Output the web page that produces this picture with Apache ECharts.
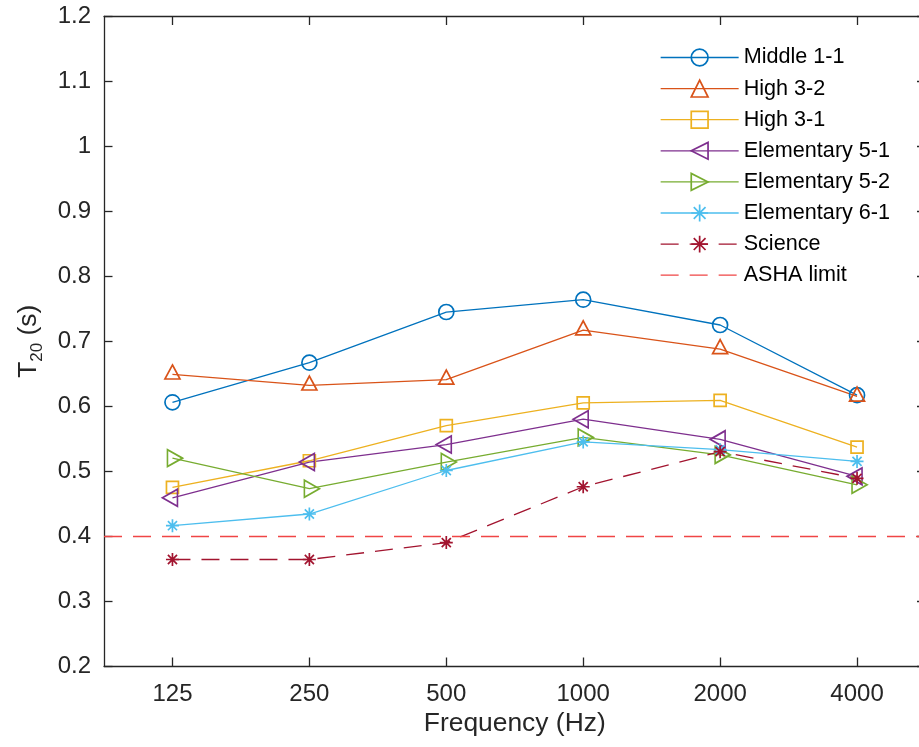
<!DOCTYPE html>
<html>
<head>
<meta charset="utf-8">
<script src="https://cdn.jsdelivr.net/npm/echarts@6/dist/echarts.min.js"></script>
<style>
  html, body { margin: 0; padding: 0; background: #fff; }
  #chart { width: 919px; height: 747px; }
</style>
</head>
<body>
<div id="chart"></div>
<script>
// Octave-band centre frequencies (Hz)
const frequencies = ['125', '250', '500', '1000', '2000', '4000'];

// Reverberation time T20 (s) per classroom
const middle11 = [0.606, 0.667, 0.745, 0.764, 0.725, 0.617];
const high32   = [0.649, 0.632, 0.641, 0.717, 0.688, 0.615];
const high31   = [0.475, 0.516, 0.570, 0.605, 0.609, 0.537];
const elem51   = [0.459, 0.514, 0.541, 0.580, 0.549, 0.492];
const elem52   = [0.520, 0.473, 0.514, 0.552, 0.525, 0.479];
const elem61   = [0.416, 0.434, 0.501, 0.545, 0.533, 0.515];
const science  = [0.364, 0.364, 0.390, 0.476, 0.530, 0.489];

// Recommended maximum reverberation time
const ashaLimit = 0.4;

// Value axis range
const yMin = 0.2, yMax = 1.2, yStep = 0.1;

const FONT = '"Liberation Sans", Arial, Helvetica, sans-serif';
const AXIS_COLOR = '#262626';

// Marker shapes (outline only)
const SYM = {
  circle: 'circle',
  up: 'path://M0.5,0 L1,1 L0,1 Z',
  square: 'rect',
  left: 'path://M0,0.5 L1,0 L1,1 Z',
  right: 'path://M1,0.5 L0,0 L0,1 Z',
  star: 'path://M0,-1 L0,1 M-1,0 L1,0 M-0.7,-0.7 L0.7,0.7 M-0.7,0.7 L0.7,-0.7'
};

function line(name, values, color, symbol, size, offset, dashed) {
  return {
    type: 'line',
    name: name,
    data: values,
    symbol: symbol,
    symbolSize: size,
    symbolOffset: offset || [0, 0],
    showAllSymbol: true,
    lineStyle: { color: color, width: 1.3, type: dashed ? [18, 11] : 'solid' },
    itemStyle: { color: 'transparent', borderColor: color, borderWidth: 1.7 },
    emphasis: { disabled: true },
    silent: true
  };
}

const chart = echarts.init(document.getElementById('chart'), null, { renderer: 'canvas' });

chart.setOption({
  animation: false,
  backgroundColor: '#fff',
  grid: { left: 104, top: 16.5, width: 821.5, height: 649.5, containLabel: false, outerBoundsMode: 'none' },
  legend: {
    orient: 'vertical',
    left: 660,
    top: 46.5,
    padding: 0,
    itemWidth: 78,
    itemHeight: 21,
    itemGap: 9.1,
    selectedMode: false,
    textStyle: { color: '#000', fontSize: 21.6, fontFamily: FONT, lineHeight: 19 },
    lineStyle: { width: 1.3 },
    itemStyle: { borderWidth: 1.7 }
  },
  xAxis: [
    {
      type: 'category',
      data: frequencies,
      position: 'bottom',
      boundaryGap: true,
      name: 'Frequency (Hz)',
      nameLocation: 'middle',
      nameGap: 43,
      nameTextStyle: { color: AXIS_COLOR, fontSize: 26.4, fontFamily: FONT },
      axisLine: { show: true, lineStyle: { color: AXIS_COLOR, width: 1.3 } },
      axisTick: { show: true, inside: true, length: 8.5, alignWithLabel: true, lineStyle: { color: AXIS_COLOR, width: 1.3 } },
      axisLabel: { color: AXIS_COLOR, fontSize: 24, fontFamily: FONT, margin: 16 },
      splitLine: { show: false }
    },
    {
      type: 'category',
      data: frequencies,
      position: 'top',
      boundaryGap: true,
      axisLine: { show: true, lineStyle: { color: AXIS_COLOR, width: 1.3 } },
      axisTick: { show: true, inside: true, length: 8.5, alignWithLabel: true, lineStyle: { color: AXIS_COLOR, width: 1.3 } },
      axisLabel: { show: false },
      splitLine: { show: false }
    }
  ],
  yAxis: [
    {
      type: 'value',
      min: yMin,
      max: yMax,
      interval: yStep,
      position: 'left',
      name: '{t|T}{s|20}{t| (s)}',
      nameLocation: 'middle',
      nameRotate: 90,
      nameGap: 58,
      nameTextStyle: {
        color: AXIS_COLOR,
        fontFamily: FONT,
        rich: {
          t: { fontSize: 26.4, lineHeight: 30, verticalAlign: 'top', fontFamily: FONT, color: AXIS_COLOR },
          s: { fontSize: 17, lineHeight: 17, padding: [21, 0, 0, 0], verticalAlign: 'bottom', fontFamily: FONT, color: AXIS_COLOR }
        }
      },
      axisLine: { show: true, lineStyle: { color: AXIS_COLOR, width: 1.3 } },
      axisTick: { show: true, inside: true, length: 8.5, lineStyle: { color: AXIS_COLOR, width: 1.3 } },
      axisLabel: { color: AXIS_COLOR, fontSize: 24, fontFamily: FONT, margin: 13 },
      splitLine: { show: false }
    },
    {
      type: 'value',
      min: yMin,
      max: yMax,
      interval: yStep,
      position: 'right',
      axisLine: { show: true, lineStyle: { color: AXIS_COLOR, width: 1.3 } },
      axisTick: { show: true, inside: true, length: 8.5, lineStyle: { color: AXIS_COLOR, width: 1.3 } },
      axisLabel: { show: false },
      splitLine: { show: false }
    }
  ],
  series: [
    line('Middle 1-1', middle11, '#0072BD', SYM.circle, 15),
    line('High 3-2', high32, '#D95319', SYM.up, [15, 14], [0, -2.4]),
    line('High 3-1', high31, '#EDB120', SYM.square, 12),
    line('Elementary 5-1', elem51, '#7E2F8E', SYM.left, [15, 17], [-2.5, 0]),
    line('Elementary 5-2', elem52, '#77AC30', SYM.right, [15, 17], [2.5, 0]),
    line('Elementary 6-1', elem61, '#4DBEEE', SYM.star, 13),
    line('Science', science, '#A2142F', SYM.star, 13, null, true),
    {
      type: 'line',
      name: 'ASHA limit',
      data: [],
      symbol: 'none',
      lineStyle: { color: '#F04545', width: 1.4, type: [18, 11] },
      itemStyle: { color: 'transparent', borderColor: 'transparent', borderWidth: 0 },
      silent: true,
      markLine: {
        silent: true,
        symbol: ['none', 'none'],
        label: { show: false },
        emphasis: { disabled: true },
        lineStyle: { color: '#F04545', width: 1.4, type: [18, 11] },
        data: [{ yAxis: ashaLimit }]
      }
    }
  ]
});
</script>
</body>
</html>
